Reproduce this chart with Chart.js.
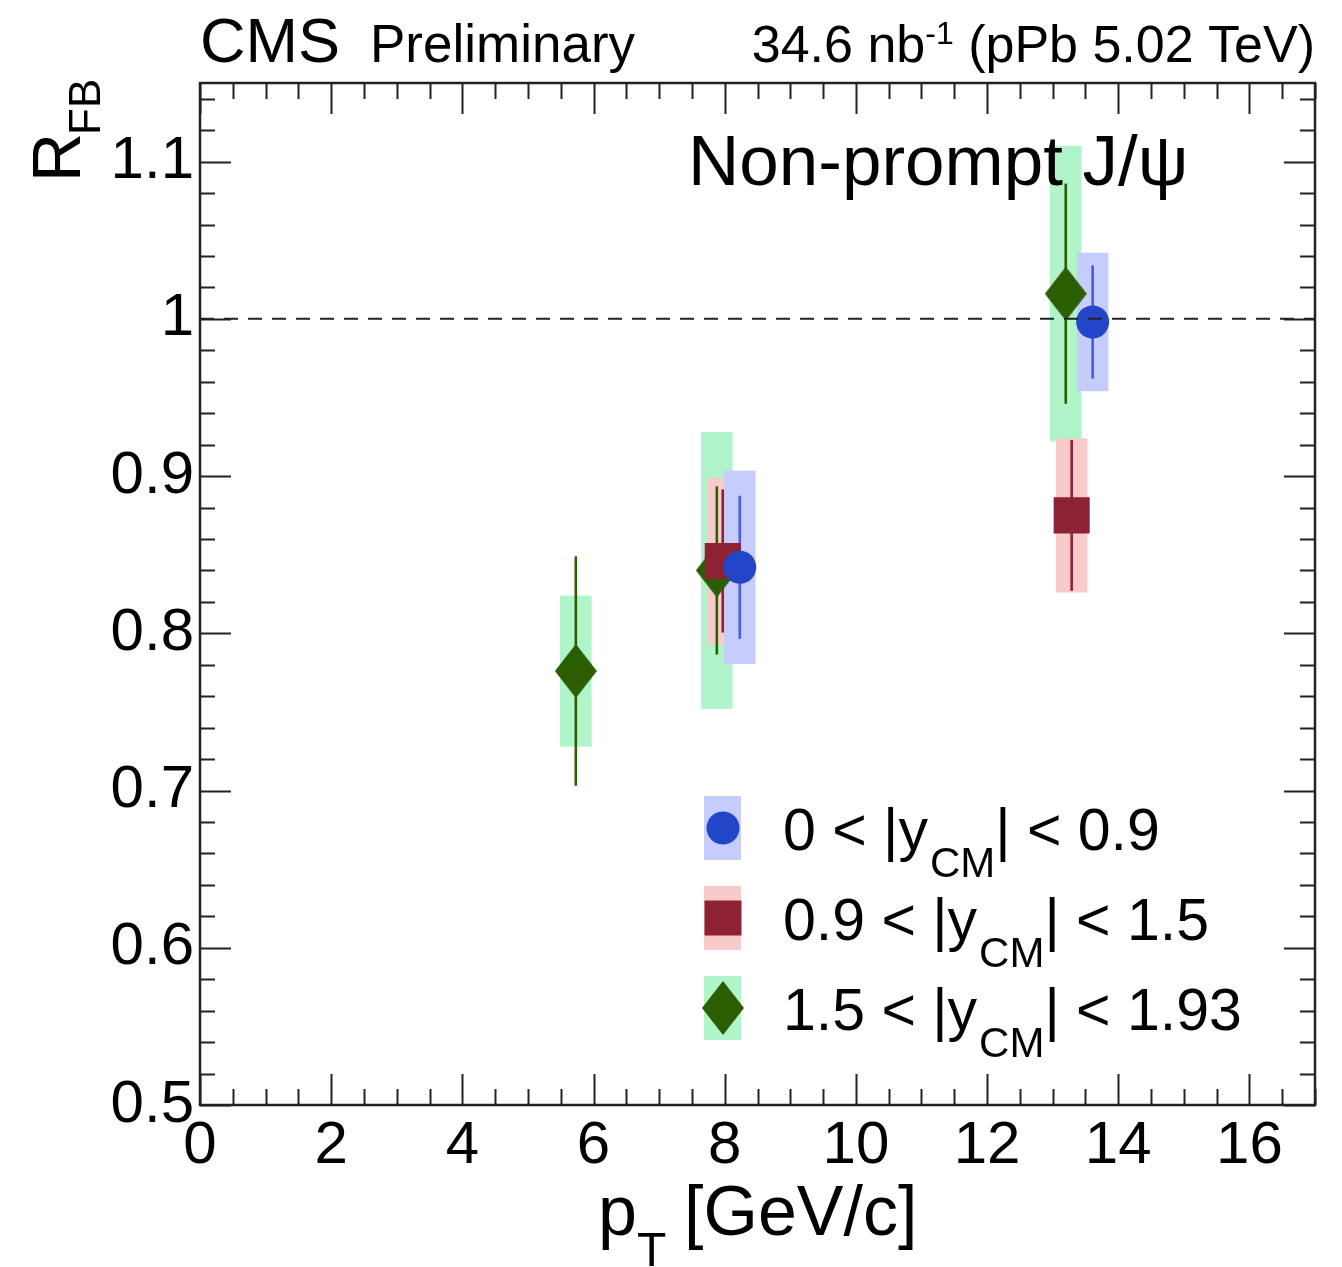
<!DOCTYPE html>
<html><head><meta charset="utf-8">
<script src="https://cdn.jsdelivr.net/npm/chart.js@4/dist/chart.umd.min.js"></script>
<style>html,body{margin:0;padding:0;background:#fff;}</style>
</head><body>
<canvas id="c" width="1342" height="1267" style="display:block;width:1342px;height:1267px"></canvas>
<script>
// ---------- data ----------
const seriesNames = ['0 < |y_CM| < 0.9', '0.9 < |y_CM| < 1.5', '1.5 < |y_CM| < 1.93'];
const legendPre  = ['0 < |y', '0.9 < |y', '1.5 < |y'];
const legendSub  = ['CM', 'CM', 'CM'];
const legendPost = ['| < 0.9', '| < 1.5', '| < 1.93'];

const ptBlue   = [8.23, 13.61];
const rfbBlue  = [0.842, 0.998];
const statBlue = [0.0455, 0.036];
const systBlue = [0.0615, 0.044];

const ptRed   = [7.97, 13.29];
const rfbRed  = [0.846, 0.875];
const statRed = [0.0455, 0.048];
const systRed = [0.053, 0.049];

const ptGreen   = [5.73, 7.88, 13.20];
const rfbGreen  = [0.776, 0.840, 1.016];
const statGreen = [0.073, 0.0535, 0.070];
const systGreen = [0.048, 0.088, 0.094];

const systHalfWidth = [0.24, 0.24, 0.24];

const xTickValues = [0, 2, 4, 6, 8, 10, 12, 14, 16];
const xTickLabels = ['0', '2', '4', '6', '8', '10', '12', '14', '16'];
const yTickValues = [0.5, 0.6, 0.7, 0.8, 0.9, 1.0, 1.1];
const yTickLabels = ['0.5', '0.6', '0.7', '0.8', '0.9', '1', '1.1'];
const referenceLine = [1.0];

// ---------- styles ----------
const FONT = '"Liberation Sans", Arial, Helvetica, sans-serif';
const markerColors = ['#2346c8', '#8c2232', '#2b5e00'];
const statColors   = ['#4560d8', '#8c2232', '#2b5e00'];
const boxColors    = ['#c6ccfb', '#f8caca', '#aff5c9'];

function makeDiamond(w, h, color) {
  const c = document.createElement('canvas');
  c.width = w; c.height = h;
  const g = c.getContext('2d');
  g.fillStyle = color;
  g.beginPath();
  g.moveTo(w / 2, 0); g.lineTo(w, h / 2); g.lineTo(w / 2, h); g.lineTo(0, h / 2);
  g.closePath(); g.fill();
  return c;
}
const diamondImg = makeDiamond(42, 54, markerColors[2]);

const series = [
  { x: ptBlue,  y: rfbBlue,  stat: statBlue,  syst: systBlue },
  { x: ptRed,   y: rfbRed,   stat: statRed,   syst: systRed },
  { x: ptGreen, y: rfbGreen, stat: statGreen, syst: systGreen }
];
const toPoints = s => s.x.map((v, i) => ({ x: v, y: s.y[i] }));

const rootPlugin = {
  id: 'rootStyle',
  beforeDatasetsDraw(chart) {
    const ctx = chart.ctx, xs = chart.scales.x, ys = chart.scales.y;
    ctx.save();
    [2, 1, 0].forEach(k => {
      const s = series[k];
      ctx.fillStyle = boxColors[k];
      s.x.forEach((xv, i) => {
        const x1 = xs.getPixelForValue(xv - systHalfWidth[k]);
        const x2 = xs.getPixelForValue(xv + systHalfWidth[k]);
        const y1 = ys.getPixelForValue(s.y[i] + s.syst[i]);
        const y2 = ys.getPixelForValue(s.y[i] - s.syst[i]);
        ctx.fillRect(x1, y1, x2 - x1, y2 - y1);
      });
    });
    [2, 1, 0].forEach(k => {
      const s = series[k];
      ctx.strokeStyle = statColors[k];
      ctx.lineWidth = 2.6;
      s.x.forEach((xv, i) => {
        const px = xs.getPixelForValue(xv);
        ctx.beginPath();
        ctx.moveTo(px, ys.getPixelForValue(s.y[i] + s.stat[i]));
        ctx.lineTo(px, ys.getPixelForValue(s.y[i] - s.stat[i]));
        ctx.stroke();
      });
    });
    ctx.restore();
  },
  afterDraw(chart) {
    const ctx = chart.ctx, xs = chart.scales.x, ys = chart.scales.y;
    const a = chart.chartArea;
    ctx.save();
    ctx.strokeStyle = '#222';
    ctx.lineWidth = 2;
    ctx.beginPath();
    for (let i = 0; i <= 34; i++) {
      const v = i * 0.5;
      const px = Math.round(xs.getPixelForValue(v)) + 0.5;
      const len = (i % 4 === 0) ? 31 : 16;
      ctx.moveTo(px, a.bottom); ctx.lineTo(px, a.bottom - len);
      ctx.moveTo(px, a.top); ctx.lineTo(px, a.top + len);
    }
    for (let i = 0; i <= 32; i++) {
      const v = 0.5 + i * 0.02;
      if (v > 1.15 + 1e-9) break;
      const py = Math.round(ys.getPixelForValue(v)) + 0.5;
      const len = (i % 5 === 0) ? 31 : 15;
      ctx.moveTo(a.left, py); ctx.lineTo(a.left + len, py);
      ctx.moveTo(a.right, py); ctx.lineTo(a.right - len, py);
    }
    ctx.stroke();
    ctx.lineWidth = 2.5;
    ctx.strokeRect(a.left, a.top, a.right - a.left, a.bottom - a.top);

    ctx.fillStyle = '#000';
    ctx.textBaseline = 'alphabetic';
    ctx.textAlign = 'left';
    ctx.font = `63px ${FONT}`;
    ctx.fillText('CMS', 200, 62);
    ctx.font = `53px ${FONT}`;
    ctx.fillText('Preliminary', 370, 62);
    const p1 = '34.6 nb', sup = '-1', p2 = ' (pPb 5.02 TeV)';
    ctx.font = `52px ${FONT}`;
    const w1 = ctx.measureText(p1).width, w3 = ctx.measureText(p2).width;
    ctx.font = `32px ${FONT}`;
    const w2 = ctx.measureText(sup).width;
    let x0 = 1315 - (w1 + w2 + w3);
    ctx.font = `52px ${FONT}`;
    ctx.fillText(p1, x0, 62);
    ctx.font = `32px ${FONT}`;
    ctx.fillText(sup, x0 + w1, 44);
    ctx.font = `52px ${FONT}`;
    ctx.fillText(p2, x0 + w1 + w2, 62);

    ctx.font = `71px ${FONT}`;
    ctx.fillText('Non-prompt J/\u03C8', 688, 185);

    ctx.font = `70px ${FONT}`;
    ctx.fillText('p', 598, 1235);
    const wp = ctx.measureText('p').width;
    ctx.font = `48px ${FONT}`;
    ctx.fillText('T', 598 + wp, 1266);
    ctx.font = `70px ${FONT}`;
    ctx.fillText('[GeV/c]', 684, 1235);

    ctx.save();
    ctx.translate(80, 182);
    ctx.rotate(-Math.PI / 2);
    ctx.font = `68px ${FONT}`;
    ctx.fillText('R', 0, 0);
    const wr = ctx.measureText('R').width;
    ctx.font = `44px ${FONT}`;
    ctx.fillText('FB', wr - 2, 20);
    ctx.restore();

    const legY = [828, 918, 1008];
    for (let k = 0; k < 3; k++) {
      const cy = legY[k];
      ctx.fillStyle = boxColors[k];
      ctx.fillRect(704, cy - 32, 37, 64);
      ctx.fillStyle = markerColors[k];
      if (k === 0) {
        ctx.beginPath(); ctx.arc(723, cy, 16.5, 0, Math.PI * 2); ctx.fill();
      } else if (k === 1) {
        ctx.fillRect(723 - 18.5, cy - 17.5, 37, 35);
      } else {
        ctx.drawImage(diamondImg, 723 - diamondImg.width / 2, cy - diamondImg.height / 2);
      }
      ctx.fillStyle = '#000';
      const base = cy + 22;
      ctx.font = `59px ${FONT}`;
      ctx.fillText(legendPre[k], 783, base);
      let xx = 783 + ctx.measureText(legendPre[k]).width + 2;
      ctx.font = `42px ${FONT}`;
      ctx.fillText(legendSub[k], xx, base + 27);
      xx += ctx.measureText(legendSub[k]).width;
      ctx.font = `59px ${FONT}`;
      ctx.fillText(legendPost[k], xx, base);
    }
    ctx.restore();
  }
};

new Chart(document.getElementById('c'), {
  type: 'scatter',
  data: {
    datasets: [
      {
        type: 'line',
        label: 'reference',
        data: [{ x: 0, y: referenceLine[0] }, { x: 17, y: referenceLine[0] }],
        borderColor: '#222', borderWidth: 2, borderDash: [14, 10],
        pointRadius: 0, fill: false, order: 0
      },
      {
        label: seriesNames[0], data: toPoints(series[0]),
        pointStyle: 'circle', pointRadius: 16.5,
        backgroundColor: markerColors[0], borderColor: markerColors[0], borderWidth: 0, order: 1
      },
      {
        label: seriesNames[1], data: toPoints(series[1]),
        pointStyle: 'rect', pointRadius: 25.5,
        backgroundColor: markerColors[1], borderColor: markerColors[1], borderWidth: 0, order: 2
      },
      {
        label: seriesNames[2], data: toPoints(series[2]),
        pointStyle: diamondImg, pointRadius: 20,
        backgroundColor: markerColors[2], borderColor: markerColors[2], borderWidth: 0, order: 3
      }
    ]
  },
  options: {
    responsive: false,
    animation: false,
    devicePixelRatio: 1,
    layout: { padding: { top: 83, right: 27, left: 0, bottom: 0 } },
    plugins: { legend: { display: false }, tooltip: { enabled: false } },
    scales: {
      x: {
        type: 'linear', min: 0, max: 17,
        afterBuildTicks: s => { s.ticks = xTickValues.map(v => ({ value: v })); },
        afterFit: s => { s.height = 162; },
        ticks: {
          callback: (v, i) => xTickLabels[i],
          font: { family: FONT, size: 60 }, color: '#000', padding: 5,
          maxRotation: 0, autoSkip: false
        },
        grid: { display: false, drawTicks: false },
        border: { display: false }
      },
      y: {
        type: 'linear', min: 0.5, max: 1.15,
        afterBuildTicks: s => { s.ticks = yTickValues.map(v => ({ value: v })); },
        afterFit: s => { s.width = 200; },
        ticks: {
          callback: (v, i) => yTickLabels[i],
          font: { family: FONT, size: 60 }, color: '#000', padding: 6, autoSkip: false
        },
        grid: { display: false, drawTicks: false },
        border: { display: false }
      }
    }
  },
  plugins: [rootPlugin]
});
</script>
</body></html>
